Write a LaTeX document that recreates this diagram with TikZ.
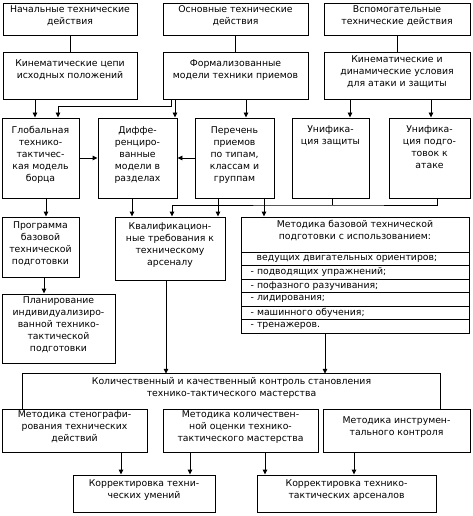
\documentclass[tikz,border=0pt]{standalone}
\usepackage{fontspec}
\setmainfont{DejaVu Sans}
\usetikzlibrary{arrows.meta,fit}
\newcommand\dfont{\fontsize{9.3}{12}\selectfont}
\begin{document}
\begin{tikzpicture}[x=1pt,y=-1pt,
  box/.style={draw, line width=0.95pt, inner sep=0pt, font=\dfont, align=center},
  plain/.style={inner sep=0pt, font=\dfont, align=center},
  toptext/.style={label={[font=\dfont, align=center, anchor=north, inner sep=0pt, yshift=-7.5pt]north:{#1}}},
  itemtext/.style={label={[font=\dfont, anchor=west, inner sep=0pt, xshift=#1]west:{\itemstr}}},
  ln/.style={line width=0.95pt},
  arr/.style={line width=0.95pt, -{Triangle[width=4.5pt,length=5pt]}}
]
\useasboundingbox (0,0) rectangle (472,516);
% row 1
\node[box, fit={(3,3)(137,35)}] (A) {Начальные технические\\действия};
\node[box, fit={(163,3)(308,35)}] (B) {Основные технические\\действия};
\node[box, fit={(324,3)(470,35)}] (C) {Вспомогательные\\технические действия};
% row 2
\node[box, fit={(3,52)(137,99)}, toptext={Кинематические цепи\\исходных положений}] (D) {};
\node[box, fit={(163,52)(308,99)}, toptext={Формализованные\\модели техники приемов}] (E) {};
\node[box, fit={(324,52)(470,99)}] (F) {Кинематические и\\динамические условия\\для атаки и защиты};
% row 3
\node[box, fit={(2,118)(79,198)}] (G) {Глобальная\\технико-\\тактичес-\\кая модель\\борца};
\node[box, fit={(98,118)(177,198)}] (H) {Диффе-\\ренциро-\\ванные\\модели в\\разделах};
\node[box, fit={(195,118)(274,198)}] (I) {Перечень\\приемов\\по типам,\\классам и\\группам};
\node[box, fit={(292,118)(369,198)}, toptext={Унифика-\\ция защиты}] (J) {};
\node[box, fit={(389,118)(470,198)}, toptext={Унифика-\\ция подго-\\товок к\\атаке}] (K) {};
% row 4
\node[box, fit={(2,217)(79,277)}] (L) {Программа\\базовой\\технической\\подготовки};
\node[box, fit={(2,294)(115,363)}] (M) {Планирование\\индивидуализиро-\\ванной технико-\\тактической\\подготовки};
\node[box, fit={(115,217)(225,280)}] (N) {Квалификацион-\\ные требования к\\техническому\\арсеналу};
\node[box, fit={(241,217)(469,252)}] (O) {Методика базовой технической\\подготовки с использованием:};
\def\itemstr{ведущих двигательных ориентиров;}
\node[box, fit={(241,252)(469,265.5)}, itemtext=16pt] (O1) {};
\def\itemstr{- подводящих упражнений;}
\node[box, fit={(241,265.5)(469,279)}, itemtext=10pt] (O2) {};
\def\itemstr{- пофазного разучивания;}
\node[box, fit={(241,279)(469,292.5)}, itemtext=10pt] (O3) {};
\def\itemstr{- лидирования;}
\node[box, fit={(241,292.5)(469,306)}, itemtext=10pt] (O4) {};
\def\itemstr{- машинного обучения;}
\node[box, fit={(241,306)(469,319.5)}, itemtext=10pt] (O5) {};
\def\itemstr{- тренажеров.}
\node[box, fit={(241,319.5)(469,333)}, itemtext=10pt] (O6) {};
% control frame
\node[plain, fit={(23,374)(440,409)}] (Q) {Количественный и качественный контроль становления\\технико-тактического мастерства};
\draw[ln] (Q.south west) -- (Q.north west) -- (Q.north east) -- (Q.south east);
% row 5
\node[box, fit={(2,409)(147,452)}] (R) {Методика стенографи-\\рования технических\\действий};
\node[box, fit={(163,409)(318,452)}] (S) {Методика количествен-\\ной оценки технико-\\тактического мастерства};
\node[box, fit={(323,409)(470,452)}, toptext={Методика инструмен-\\тального контроля}] (T) {};
% row 6
\node[box, fit={(73,475)(215,512)}] (U) {Корректировка техни-\\ческих умений};
\node[box, fit={(257,475)(436,512)}] (V) {Корректировка технико-\\тактических арсеналов};
% connectors
\draw[ln] (A.south) -- (D.north);
\draw[ln] (B.south) -- (E.north);
\draw[ln] (C.south) -- (F.north);
\draw[arr] (D.south -| 35,0) -- (G.north -| 35,0);
\draw[arr] (E.south -| 171,0) |- (58,106) -- (G.north -| 58,0);
\draw[arr] (E.south -| 175,0) -- (H.north -| 175,0);
\draw[arr] (E.south -| 246,0) -- (I.north -| 246,0);
\draw[arr] (F.south -| 350,0) -- (J.north -| 350,0);
\draw[arr] (F.south -| 431,0) -- (K.north -| 431,0);
\draw[arr] (G.east |- 0,158) -- (H.west |- 0,158);
\draw[arr] (I.west |- 0,158) -- (H.east |- 0,158);
\draw[arr] (G.south -| 46,0) -- (L.north -| 46,0);
\draw[arr] (L.south -| 44,0) -- (M.north -| 44,0);
\draw[arr] (H.south -| 132,0) -- (N.north -| 132,0);
\draw[arr] (I.south -| 218,0) -- (N.north -| 218,0);
\draw[arr] (I.south -| 264,0) -- (O.north -| 264,0);
\coordinate (jk) at (332,205);
\draw[arr] (K.south -| 437,0) |- (jk) -- (172,205) -- (N.north -| 172,0);
\draw[ln] (J.south -| jk) -- (jk);
\draw[arr] (N.south -| 166,0) -- (Q.north -| 166,0);
\draw[arr] (O6.south -| 325,0) -- (Q.north -| 325,0);
\draw[arr] (R.south -| 121,0) -- (U.north -| 121,0);
\draw[arr] (S.south -| 190,0) -- (U.north -| 190,0);
\draw[arr] (S.south -| 265,0) -- (V.north -| 265,0);
\draw[arr] (T.south -| 354,0) -- (V.north -| 354,0);
\end{tikzpicture}
\end{document}
